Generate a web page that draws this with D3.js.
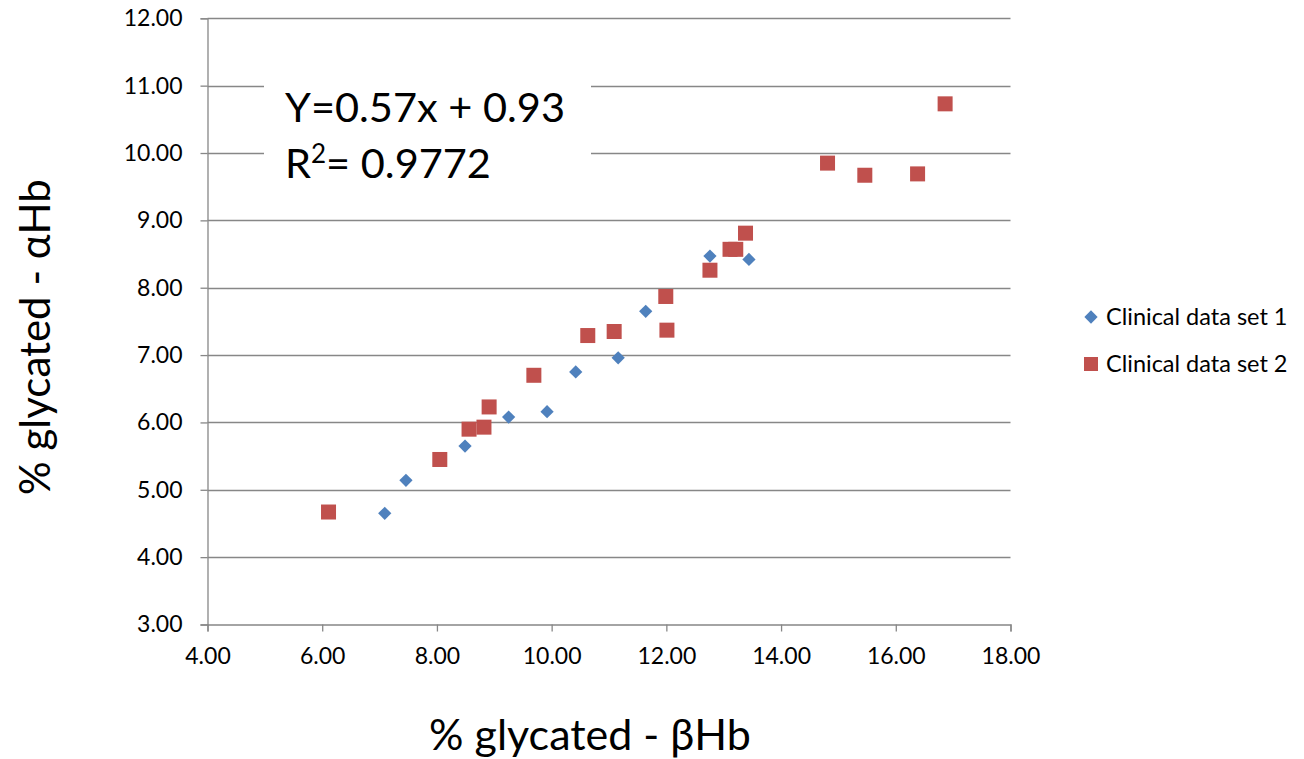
<!DOCTYPE html>
<html>
<head>
<meta charset="utf-8">
<script src="https://cdn.jsdelivr.net/npm/d3@7"></script>
<style>
  html, body { margin: 0; padding: 0; background: #fff; }
  svg { display: block; font-family: Lato, "Open Sans", sans-serif; }
</style>
</head>
<body>
<svg id="chart" width="1304" height="759"></svg>
<script>
// Clinical data set 1 (blue diamonds): % glycated βHb vs % glycated αHb
const set1Beta  = [7.09, 7.46, 8.49, 9.25, 9.92, 10.42, 11.16, 11.64, 12.76, 13.44];
const set1Alpha = [4.65, 5.14, 5.65, 6.08, 6.16, 6.75, 6.96, 7.65, 8.47, 8.42];

// Clinical data set 2 (red squares)
const set2Beta  = [6.11, 8.05, 8.56, 8.82, 8.91, 9.69, 10.63, 11.09, 12.01, 11.99, 12.76, 13.11, 13.21, 13.38, 14.81, 15.46, 16.38, 16.86];
const set2Alpha = [4.67, 5.45, 5.90, 5.93, 6.23, 6.70, 7.29, 7.35, 7.37, 7.87, 8.26, 8.57, 8.57, 8.81, 9.85, 9.67, 9.69, 10.73];

const xTicks = [4, 6, 8, 10, 12, 14, 16, 18];
const yTicks = [3, 4, 5, 6, 7, 8, 9, 10, 11, 12];
const seriesNames = ["Clinical data set 1", "Clinical data set 2"];
const equationLines = ["Y=0.57x + 0.93", "R2= 0.9772"];

const svg = d3.select("#chart");
const plot = { left: 207.5, right: 1010.5, top: 18.3, bottom: 624.5 };

const x = d3.scaleLinear().domain([4, 18]).range([plot.left, plot.right]);
const y = d3.scaleLinear().domain([3, 12]).range([plot.bottom, plot.top]);

const gridColor = "#878787";
const blue = "#4F81BD";
const red = "#C0504D";

// horizontal gridlines
svg.append("g")
  .selectAll("line")
  .data(yTicks.filter(d => d > 3))
  .join("line")
  .attr("x1", plot.left).attr("x2", plot.right)
  .attr("y1", d => Math.round(y(d)) + 0.5).attr("y2", d => Math.round(y(d)) + 0.5)
  .attr("stroke", gridColor).attr("stroke-width", 1.3);

// y axis
const yAxis = svg.append("g")
  .attr("transform", `translate(${plot.left},0)`)
  .call(d3.axisLeft(y).tickValues(yTicks).tickFormat(d3.format(".2f")).tickSize(7).tickPadding(18));
yAxis.select(".domain").attr("stroke", gridColor).attr("stroke-width", 1.3);
yAxis.selectAll(".tick line").attr("stroke", gridColor).attr("stroke-width", 1.3);
yAxis.selectAll("text").attr("font-size", 23).attr("fill", "#000").attr("font-family", "Lato");

// x axis
const xAxis = svg.append("g")
  .attr("transform", `translate(0,${plot.bottom})`)
  .call(d3.axisBottom(x).tickValues(xTicks).tickFormat(d3.format(".2f")).tickSize(7).tickPadding(16));
xAxis.select(".domain").attr("stroke", gridColor).attr("stroke-width", 1.3);
xAxis.selectAll(".tick line").attr("stroke", gridColor).attr("stroke-width", 1.3);
xAxis.selectAll("text").attr("font-size", 23).attr("fill", "#000").attr("font-family", "Lato");

// regression text box
svg.append("rect")
  .attr("x", 264).attr("y", 70).attr("width", 327).attr("height", 125)
  .attr("fill", "#fff");

const eq = svg.append("g").attr("font-size", 41.5).attr("fill", "#000");
eq.append("text").attr("x", 285).attr("y", 122).text(equationLines[0]);
const r2 = eq.append("text").attr("x", 285).attr("y", 178);
r2.append("tspan").text("R");
r2.append("tspan").attr("font-size", 26).attr("dy", -15).text("2");
r2.append("tspan").attr("dy", 15).text("= 0.9772");

// data markers
const diamond = d3.symbol().type(d3.symbolDiamond2).size(112);
const set1 = set1Beta.map((b, i) => ({ b, a: set1Alpha[i] }));
const set2 = set2Beta.map((b, i) => ({ b, a: set2Alpha[i] }));

svg.append("g")
  .selectAll("path")
  .data(set1)
  .join("path")
  .attr("d", diamond)
  .attr("transform", d => `translate(${x(d.b)},${y(d.a)})`)
  .attr("fill", blue);

const sq = 15;
svg.append("g")
  .selectAll("rect")
  .data(set2)
  .join("rect")
  .attr("x", d => x(d.b) - sq / 2).attr("y", d => y(d.a) - sq / 2)
  .attr("width", sq).attr("height", sq)
  .attr("fill", red);

// axis titles
svg.append("text")
  .attr("x", 590).attr("y", 750)
  .attr("text-anchor", "middle").attr("font-size", 43).attr("fill", "#000")
  .text("% glycated - βHb");

svg.append("text")
  .attr("transform", "translate(50,337) rotate(-90)")
  .attr("text-anchor", "middle").attr("font-size", 42).attr("fill", "#000")
  .text("% glycated - αHb");

// legend
const legend = svg.append("g").attr("font-size", 23.5).attr("fill", "#000");
legend.append("path")
  .attr("d", diamond)
  .attr("transform", "translate(1091,317)")
  .attr("fill", blue);
legend.append("text").attr("x", 1106).attr("y", 325).text(seriesNames[0]);
legend.append("rect")
  .attr("x", 1091 - 7).attr("y", 364 - 7).attr("width", 14).attr("height", 14)
  .attr("fill", red);
legend.append("text").attr("x", 1106).attr("y", 372).text(seriesNames[1]);
</script>
</body>
</html>
